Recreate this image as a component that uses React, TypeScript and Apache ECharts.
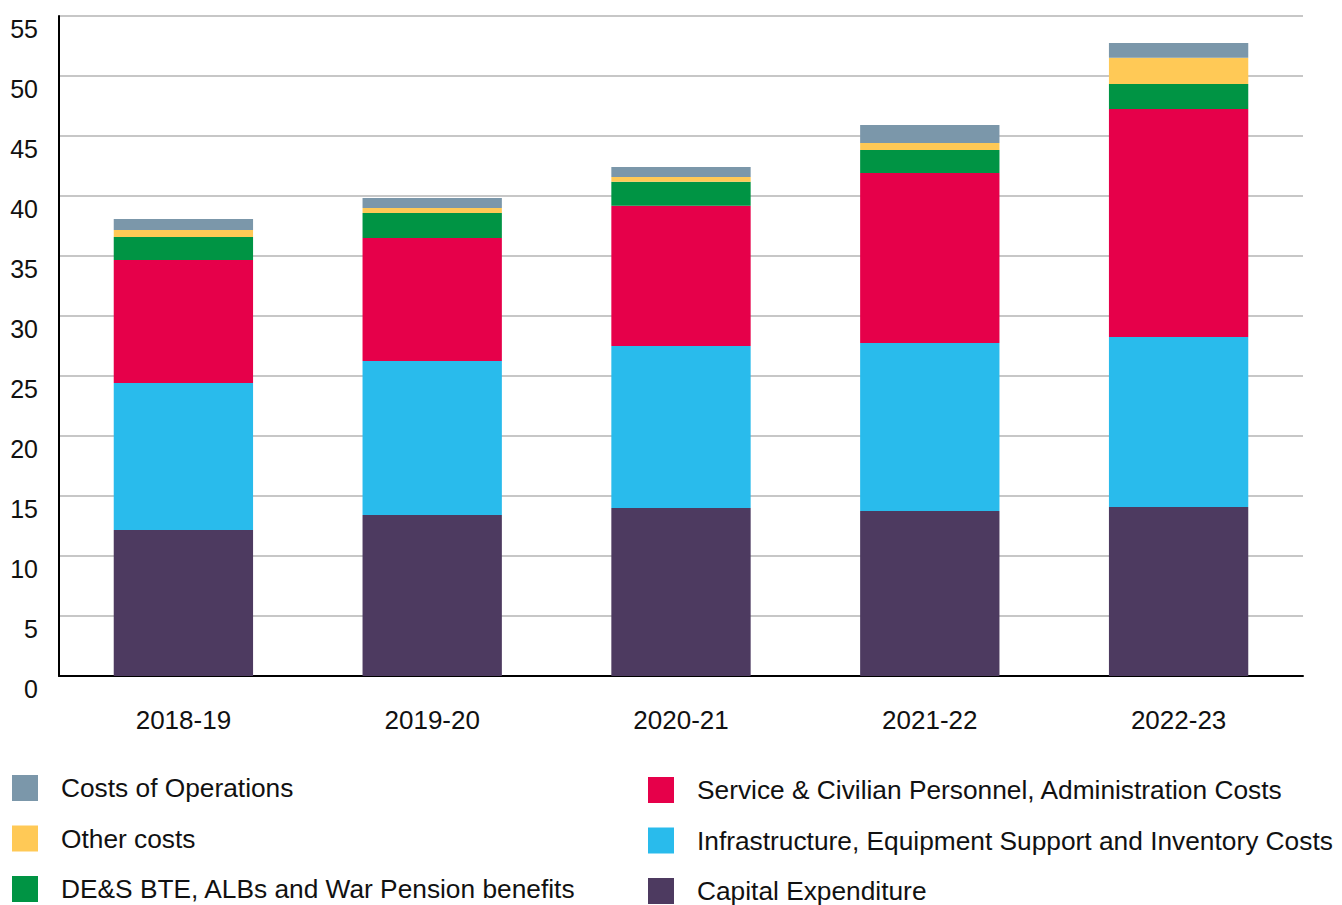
import React, { useEffect, useRef } from "react";
import * as echarts from "echarts";

const categories = ["2018-19", "2019-20", "2020-21", "2021-22", "2022-23"];
const capitalExpenditure = [12.17, 13.42, 14.0, 13.75, 14.08];
const infrastructureCosts = [12.25, 12.83, 13.5, 14.0, 14.17];
const personnelCosts = [10.25, 10.25, 11.69, 14.17, 19.0];
const desBenefits = [1.91, 2.08, 2.0, 1.92, 2.08];
const otherCosts = [0.58, 0.42, 0.39, 0.58, 2.2];
const costsOfOperations = [0.92, 0.83, 0.83, 1.5, 1.22];

const FONT = "'Liberation Sans', Arial, Helvetica, sans-serif";

export default function App() {
  const ref = useRef<HTMLDivElement>(null);
  useEffect(() => {
    document.body.style.margin = "0";
    const chart = echarts.init(ref.current!, null, { renderer: "svg" });
    const mk = (name: string, data: number[], color: string) => ({
      name,
      type: "bar",
      stack: "total",
      data,
      barWidth: "56%",
      itemStyle: { color },
      emphasis: { disabled: true },
    });
    const legendCommon = {
      orient: "vertical",
      icon: "rect",
      itemWidth: 26,
      itemHeight: 26,
      padding: 0,
      height: 200,
      selectedMode: false,
      textStyle: {
        fontSize: 26.3,
        lineHeight: 26,
        color: "#111",
        fontFamily: FONT,
        padding: [0, 0, 0, 18],
      },
    };
    chart.setOption({
      animation: false,
      textStyle: { fontFamily: FONT },
      grid: { left: 59, right: 39, top: 16, bottom: 229, containLabel: false },
      legend: [
        {
          ...legendCommon,
          left: 12,
          top: 775,
          itemGap: 24.5,
          data: [
            "Costs of Operations",
            "Other costs",
            "DE&S BTE, ALBs and War Pension benefits",
          ],
        },
        {
          ...legendCommon,
          left: 648,
          top: 777,
          itemGap: 24.5,
          data: [
            "Service & Civilian Personnel, Administration Costs",
            "Infrastructure, Equipment Support and Inventory Costs",
            "Capital Expenditure",
          ],
        },
      ],
      xAxis: {
        type: "category",
        data: categories,
        axisTick: { show: false },
        axisLine: { lineStyle: { color: "#000", width: 2 } },
        axisLabel: { fontSize: 26, color: "#111", margin: 31, fontFamily: FONT },
      },
      yAxis: {
        type: "value",
        min: 0,
        max: 55,
        interval: 5,
        axisLine: { show: true, lineStyle: { color: "#000", width: 2 } },
        axisTick: { show: false },
        splitLine: { lineStyle: { color: "#b4b4b4", width: 1.5 } },
        axisLabel: {
          fontSize: 25,
          color: "#111",
          margin: 21,
          verticalAlign: "top",
          fontFamily: FONT,
        },
      },
      series: [
        mk("Capital Expenditure", capitalExpenditure, "#4d3a60"),
        mk("Infrastructure, Equipment Support and Inventory Costs", infrastructureCosts, "#29bbec"),
        mk("Service & Civilian Personnel, Administration Costs", personnelCosts, "#e6004a"),
        mk("DE&S BTE, ALBs and War Pension benefits", desBenefits, "#009444"),
        mk("Other costs", otherCosts, "#ffc956"),
        mk("Costs of Operations", costsOfOperations, "#7b97aa"),
      ],
    });
    return () => chart.dispose();
  }, []);
  return <div ref={ref} style={{ width: 1342, height: 905 }} />;
}
